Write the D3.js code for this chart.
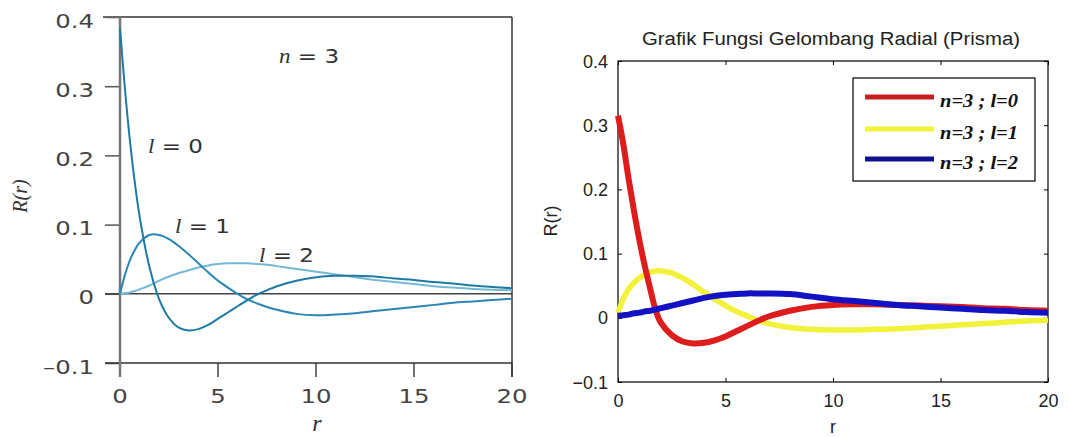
<!DOCTYPE html>
<html>
<head>
<meta charset="utf-8">
<script src="https://cdn.jsdelivr.net/npm/d3@7"></script>
<style>
  body { margin: 0; background: #fff; }
  svg { display: block; }
</style>
</head>
<body>
<div id="chart"></div>
<script>
// left panel (textbook figure), n = 3
var rLeft = [0,0.25,0.5,0.75,1,1.5,2,2.5,3,3.5,4,4.5,5,5.5,6,6.5,7,7.5,8,9,10,11,12,13,14,15,16,17,18,19,20];
var leftL0 = [0.384,0.297,0.223,0.162,0.112,0.039,-0.008,-0.035,-0.049,-0.053,-0.051,-0.045,-0.036,-0.027,-0.018,-0.009,-0.001,0.005,0.011,0.019,0.024,0.026,0.026,0.025,0.022,0.020,0.017,0.015,0.012,0.010,0.008];
var leftL1 = [0,0.027,0.048,0.063,0.074,0.085,0.085,0.079,0.069,0.057,0.044,0.031,0.019,0.009,0,-0.008,-0.014,-0.019,-0.023,-0.029,-0.031,-0.030,-0.028,-0.025,-0.022,-0.019,-0.016,-0.013,-0.011,-0.009,-0.007];
var leftL2 = [0,0.001,0.002,0.004,0.0065,0.012,0.019,0.025,0.030,0.034,0.038,0.041,0.043,0.044,0.044,0.044,0.043,0.042,0.040,0.036,0.032,0.028,0.024,0.020,0.017,0.014,0.011,0.009,0.007,0.006,0.005];

// right panel (Prisma)
var rRight = [0,0.25,0.5,0.75,1,1.25,1.5,1.75,2,2.5,3,3.5,4,4.5,5,5.5,6,6.5,7,8,9,10,11,12,13,14,15,16,17,18,19,20];
var rightL0 = [0.315,0.27,0.215,0.165,0.12,0.08,0.045,0.012,-0.008,-0.027,-0.037,-0.040,-0.039,-0.035,-0.029,-0.021,-0.013,-0.005,0.002,0.011,0.017,0.020,0.021,0.021,0.020,0.019,0.018,0.017,0.015,0.014,0.012,0.011];
var rightL1 = [0.008,0.030,0.045,0.055,0.062,0.067,0.071,0.073,0.073,0.070,0.062,0.052,0.040,0.029,0.019,0.010,0.003,-0.004,-0.009,-0.015,-0.018,-0.019,-0.019,-0.018,-0.017,-0.015,-0.013,-0.011,-0.009,-0.007,-0.005,-0.004];
var rightL2 = [0.003,0.004,0.005,0.007,0.008,0.010,0.011,0.013,0.015,0.019,0.023,0.027,0.031,0.034,0.036,0.037,0.038,0.038,0.038,0.037,0.033,0.029,0.026,0.023,0.020,0.018,0.016,0.014,0.012,0.011,0.009,0.008];

var xTicks = [0, 5, 10, 15, 20];
var yTicks = [-0.1, 0, 0.1, 0.2, 0.3, 0.4];
var legendLabels = ["n=3  ; l=0", "n=3  ; l=1", "n=3  ; l=2"];
var rightTitle = "Grafik Fungsi Gelombang Radial (Prisma)";

var width = 1070,
    height = 437;

var svg = d3.select("#chart").append("svg")
    .attr("width", width)
    .attr("height", height);

// ================= LEFT PANEL =================
var xL = d3.scaleLinear().domain([0, 20]).range([120, 512]);
var yL = d3.scaleLinear().domain([-0.1, 0.4]).range([363, 17]);
var sx = 1.22; // the scanned figure is stretched sideways

var left = svg.append("g").attr("class", "left");

var yAxisL = left.append("g")
    .attr("transform", "translate(" + xL(0) + ",0)")
    .call(d3.axisLeft(yL).tickValues(yTicks).tickSize(15).tickSizeOuter(0)
        .tickFormat(function(d) { return d < 0 ? "\u20130.1" : d === 0 ? "0" : d.toFixed(1); }));
yAxisL.select(".domain").remove();
yAxisL.selectAll("line").attr("stroke", "#555").attr("stroke-width", 1.5);
yAxisL.selectAll("text")
    .attr("font-family", "DejaVu Sans")
    .attr("font-size", 20)
    .attr("fill", "#444")
    .attr("x", -26 / sx)
    .attr("dy", "0.5em")
    .attr("transform", "scale(" + sx + ",1)");

var xAxisL = left.append("g")
    .attr("transform", "translate(0," + yL(-0.1) + ")")
    .call(d3.axisBottom(xL).tickValues(xTicks).tickSize(14).tickPadding(12).tickSizeOuter(0));
xAxisL.select(".domain").remove();
xAxisL.selectAll("line").attr("stroke", "#444").attr("stroke-width", 1.5);
xAxisL.selectAll("text")
    .attr("font-family", "DejaVu Sans")
    .attr("font-size", 20)
    .attr("fill", "#444")
    .attr("transform", "scale(" + sx + ",1)");
xAxisL.selectAll(".tick")
    .attr("transform", function(d) { return "translate(" + xL(d) + ",0)"; });

// frame lines
left.append("line").attr("x1", 103).attr("x2", xL(20)).attr("y1", yL(0.4)).attr("y2", yL(0.4))
    .attr("stroke", "#666").attr("stroke-width", 2);
left.append("line").attr("x1", 105).attr("x2", xL(20)).attr("y1", yL(-0.1)).attr("y2", yL(-0.1))
    .attr("stroke", "#333").attr("stroke-width", 1.5);
left.append("line").attr("x1", 105).attr("x2", xL(20)).attr("y1", yL(0)).attr("y2", yL(0))
    .attr("stroke", "#444").attr("stroke-width", 1.5);
left.append("line").attr("x1", xL(0)).attr("x2", xL(0)).attr("y1", yL(0.4)).attr("y2", yL(-0.1) + 14)
    .attr("stroke", "#777").attr("stroke-width", 2.5);
left.append("line").attr("x1", xL(20)).attr("x2", xL(20)).attr("y1", yL(0.4)).attr("y2", yL(-0.1) + 14)
    .attr("stroke", "#333").attr("stroke-width", 1.5);

var lineL = d3.line()
    .x(function(d) { return xL(d[0]); })
    .y(function(d) { return yL(d[1]); })
    .curve(d3.curveCatmullRom);

var leftSeries = [
    { vals: leftL2, color: "#74b8d3" },
    { vals: leftL1, color: "#2a87b3" },
    { vals: leftL0, color: "#1c7aa3" }
];
leftSeries.forEach(function(s) {
    left.append("path")
        .datum(d3.zip(rLeft, s.vals))
        .attr("d", lineL)
        .attr("fill", "none")
        .attr("stroke", s.color)
        .attr("stroke-width", 2);
});

// annotations
function annot(x, y, sym, rest) {
    var t = left.append("text")
        .attr("transform", "translate(" + x + "," + y + ") scale(1.15,1)")
        .attr("font-size", 20)
        .attr("fill", "#333");
    t.append("tspan").attr("font-family", "Liberation Serif").attr("font-style", "italic").text(sym);
    t.append("tspan").attr("font-family", "DejaVu Sans").text(rest);
}
annot(279, 63, "n", " = 3");
annot(148, 153, "l", " = 0");
annot(175, 233, "l", " = 1");
annot(259, 262, "l", " = 2");

left.append("text")
    .attr("transform", "translate(27,196) rotate(-90)")
    .attr("text-anchor", "middle")
    .attr("font-family", "Liberation Serif")
    .attr("font-style", "italic")
    .attr("font-size", 20)
    .attr("fill", "#333")
    .text("R(r)");
left.append("text")
    .attr("x", 317).attr("y", 431)
    .attr("text-anchor", "middle")
    .attr("font-family", "Liberation Serif")
    .attr("font-style", "italic")
    .attr("font-size", 24)
    .attr("fill", "#333")
    .text("r");

// ================= RIGHT PANEL =================
var xR = d3.scaleLinear().domain([0, 20]).range([618, 1048]);
var yR = d3.scaleLinear().domain([-0.1, 0.4]).range([382, 61]);

var right = svg.append("g").attr("class", "right");

function styleAxis(g) {
    g.select(".domain").remove();
    g.selectAll("line").attr("stroke", "#000");
    g.selectAll("text")
        .attr("font-family", "Liberation Sans")
        .attr("font-size", 18)
        .attr("fill", "#222");
}

right.append("g")
    .attr("transform", "translate(" + xR(0) + ",0)")
    .call(d3.axisLeft(yR).tickValues(yTicks).tickSize(-4).tickPadding(10).tickSizeOuter(0)
        .tickFormat(function(d) { return d === 0 ? "0" : d3.format(".1f")(d); }))
    .call(styleAxis)
    .selectAll("text").attr("dy", "0.34em");
right.append("g")
    .attr("transform", "translate(" + xR(20) + ",0)")
    .call(d3.axisRight(yR).tickValues(yTicks).tickSize(-4).tickFormat("").tickSizeOuter(0))
    .call(styleAxis);
right.append("g")
    .attr("transform", "translate(0," + yR(-0.1) + ")")
    .call(d3.axisBottom(xR).tickValues(xTicks).tickSize(-4).tickPadding(12).tickSizeOuter(0))
    .call(styleAxis);
right.append("g")
    .attr("transform", "translate(0," + yR(0.4) + ")")
    .call(d3.axisTop(xR).tickValues(xTicks).tickSize(-4).tickFormat("").tickSizeOuter(0))
    .call(styleAxis);

right.append("rect")
    .attr("x", xR(0)).attr("y", yR(0.4))
    .attr("width", xR(20) - xR(0)).attr("height", yR(-0.1) - yR(0.4))
    .attr("fill", "none").attr("stroke", "#000").attr("stroke-width", 1.2);

var lineR = d3.line()
    .x(function(d) { return xR(d[0]); })
    .y(function(d) { return yR(d[1]); })
    .curve(d3.curveCatmullRom);

var rightSeries = [
    { vals: rightL1, color: "#f2f23a", w: 5.5, legend: "#f2f23a" },
    { vals: rightL0, color: "#dd1c1c", w: 6, legend: "#c81e22" },
    { vals: rightL2, color: "#1212c4", w: 6, legend: "#10108e" }
];
rightSeries.forEach(function(s) {
    right.append("path")
        .datum(d3.zip(rRight, s.vals))
        .attr("d", lineR)
        .attr("fill", "none")
        .attr("stroke", s.color)
        .attr("stroke-width", s.w);
});

right.append("text")
    .attr("x", 831).attr("y", 45)
    .attr("text-anchor", "middle")
    .attr("font-family", "Liberation Sans")
    .attr("font-size", 18)
    .attr("textLength", 378)
    .attr("lengthAdjust", "spacingAndGlyphs")
    .attr("fill", "#222")
    .text(rightTitle);

right.append("text")
    .attr("transform", "translate(557,221) rotate(-90)")
    .attr("text-anchor", "middle")
    .attr("font-family", "Liberation Sans")
    .attr("font-size", 18)
    .attr("fill", "#222")
    .text("R(r)");
right.append("text")
    .attr("x", xR(10)).attr("y", 433)
    .attr("text-anchor", "middle")
    .attr("font-family", "Liberation Sans")
    .attr("font-size", 18)
    .attr("fill", "#222")
    .text("r");

// legend
var legendColors = [rightSeries[1].legend, rightSeries[0].legend, rightSeries[2].legend];
var lg = right.append("g");
lg.append("rect")
    .attr("x", 853).attr("y", 78).attr("width", 182).attr("height", 103)
    .attr("fill", "#fff").attr("stroke", "#000").attr("stroke-width", 1.2);
var rowY = [97, 129, 159];
var legendRow = lg.selectAll(".legend")
    .data(legendLabels)
    .enter().append("g")
    .attr("class", "legend")
    .attr("transform", function(d, i) { return "translate(0," + rowY[i] + ")"; });
legendRow.append("line")
    .attr("x1", 865).attr("x2", 934)
    .attr("stroke", function(d, i) { return legendColors[i]; })
    .attr("stroke-width", 5);
legendRow.append("text")
    .attr("x", 940).attr("y", 9.5)
    .attr("font-family", "Liberation Serif")
    .attr("font-style", "italic")
    .attr("font-weight", "bold")
    .attr("font-size", 19)
    .attr("textLength", 78)
    .attr("lengthAdjust", "spacingAndGlyphs")
    .attr("fill", "#111")
    .text(function(d) { return d; });
</script>
</body>
</html>
